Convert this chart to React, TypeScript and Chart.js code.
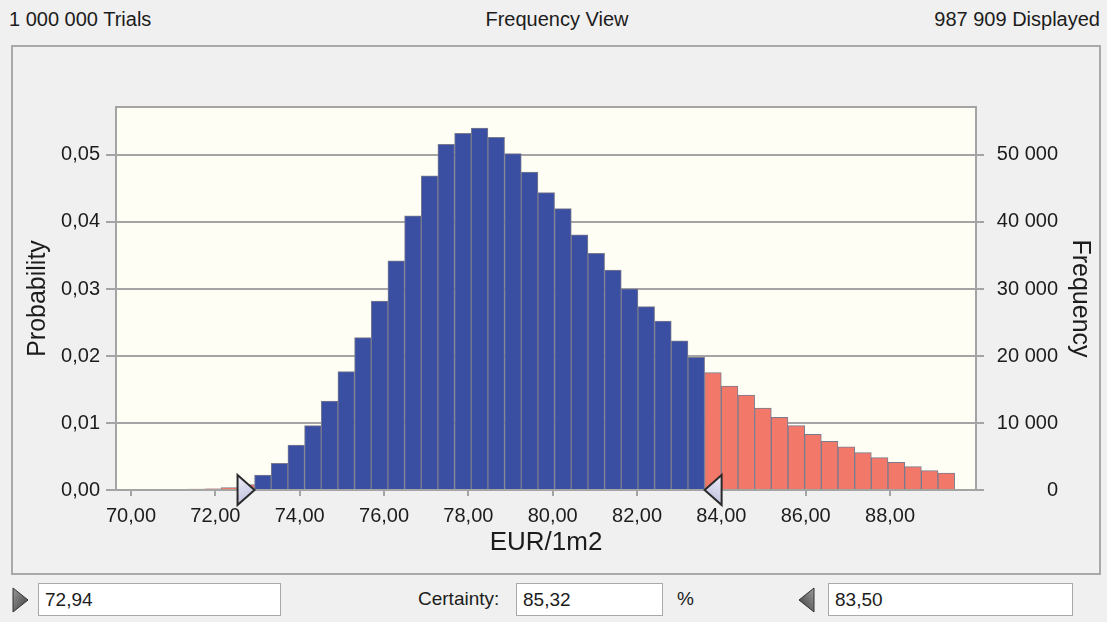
import React, { useEffect, useRef } from 'react';
import { Chart, registerables } from 'chart.js';

Chart.register(...registerables);

// ---- data ----
const binCenters = [
  70.360, 70.755, 71.151, 71.546, 71.941, 72.337, 72.732, 73.127, 73.522, 73.918,
  74.313, 74.708, 75.104, 75.499, 75.894, 76.290, 76.685, 77.080, 77.475, 77.871,
  78.266, 78.661, 79.057, 79.452, 79.847, 80.243, 80.638, 81.033, 81.428, 81.824,
  82.219, 82.614, 83.010, 83.405, 83.800, 84.196, 84.591, 84.986, 85.381, 85.777,
  86.172, 86.567, 86.963, 87.358, 87.753, 88.149, 88.544, 88.939, 89.334,
];
const probabilities = [
  0.00003, 0.00004, 0.00006, 0.00015, 0.00018, 0.00035, 0.0008, 0.00224, 0.00398, 0.00672,
  0.0096, 0.01328, 0.01766, 0.02273, 0.02821, 0.03422, 0.0409, 0.04687, 0.0516, 0.05324,
  0.05403, 0.05264, 0.0502, 0.04746, 0.04437, 0.04199, 0.0381, 0.03532, 0.03284, 0.03004,
  0.02736, 0.02522, 0.02228, 0.0198, 0.01751, 0.01552, 0.01418, 0.01224, 0.01085, 0.0096,
  0.00831, 0.00727, 0.00646, 0.00557, 0.00482, 0.00413, 0.00348, 0.00288, 0.00254,
];
const xTickValues = [70, 72, 74, 76, 78, 80, 82, 84, 86, 88];
const probTickValues = [0, 0.01, 0.02, 0.03, 0.04, 0.05];
const freqTickValues = [0, 10000, 20000, 30000, 40000, 50000];
const lowerCertainty = 72.94;
const upperCertainty = 83.5;
const certaintyPercent = 85.32;
const trialsCount = 1000000;
const displayedCount = 987909;

// ---- axis ranges / styles ----
const X_MIN = 69.644;
const X_MAX = 90.038;
const Y_MAX = 0.05716;
const BLUE = '#3a4fa2';
const RED = '#f2786a';
const GRID = '#a4a4a4';
const TXT = '#1c1c1c';
const FONT = "'Liberation Sans', Arial, sans-serif";

const fmtComma = (v: number, d: number) => v.toFixed(d).replace('.', ',');
const fmtSpace = (v: number) => String(Math.round(v)).replace(/\B(?=(\d{3})+(?!\d))/g, ' ');

const bgPlugin = {
  id: 'plotBg',
  beforeDraw(chart: any) {
    const { ctx, chartArea: a } = chart;
    ctx.save();
    ctx.fillStyle = '#fefef4';
    ctx.fillRect(a.left, a.top, a.right - a.left, a.bottom - a.top);
    ctx.restore();
  },
};

const framePlugin = {
  id: 'frameAndMarkers',
  afterDatasetsDraw(chart: any) {
    const { ctx, chartArea: a, scales } = chart;
    ctx.save();
    ctx.strokeStyle = GRID;
    ctx.lineWidth = 2;
    ctx.strokeRect(a.left, a.top, a.right - a.left, a.bottom - a.top);

    // certainty markers at the edges of the highlighted range
    const half = (binCenters[1] - binCenters[0]) / 2;
    const inside = binCenters.filter((c) => c >= lowerCertainty && c <= upperCertainty);
    const xl = scales.x.getPixelForValue(inside[0] - half);
    const xr = scales.x.getPixelForValue(inside[inside.length - 1] + half);
    const yb = a.bottom;
    const drawTri = (tipX: number, dir: number) => {
      const baseX = tipX - dir * 17;
      const g = ctx.createLinearGradient(baseX, yb - 15, tipX, yb + 15);
      g.addColorStop(0, '#eeeef8');
      g.addColorStop(1, '#b8b8dc');
      ctx.beginPath();
      ctx.moveTo(baseX, yb - 15);
      ctx.lineTo(tipX, yb);
      ctx.lineTo(baseX, yb + 15);
      ctx.closePath();
      ctx.fillStyle = g;
      ctx.fill();
      ctx.strokeStyle = '#2a2a2a';
      ctx.lineWidth = 2;
      ctx.stroke();
    };
    drawTri(xl, 1);
    drawTri(xr, -1);

    // right axis title
    ctx.translate(1068, (a.top + a.bottom) / 2);
    ctx.rotate(Math.PI / 2);
    ctx.font = `25px ${FONT}`;
    ctx.fillStyle = TXT;
    ctx.textAlign = 'center';
    ctx.textBaseline = 'middle';
    ctx.fillText('Frequency', 0, 0);
    ctx.restore();
  },
};

function ChartBox() {
  const ref = useRef<HTMLCanvasElement>(null);
  useEffect(() => {
    if (!ref.current) return;
    Chart.defaults.font.family = FONT;
    const chart = new Chart(ref.current, {
      type: 'bar',
      data: {
        datasets: [
          {
            data: binCenters.map((c, i) => ({ x: c, y: probabilities[i] })),
            backgroundColor: binCenters.map((c) => (c >= lowerCertainty && c <= upperCertainty ? BLUE : RED)),
            borderColor: '#7b7b8e',
            borderWidth: 1,
            barPercentage: 1,
            categoryPercentage: 1,
            yAxisID: 'y',
          } as any,
        ],
      },
      options: {
        responsive: false,
        animation: false,
        layout: { padding: { top: 60, right: 42, left: 0, bottom: 0 } },
        plugins: { legend: { display: false }, tooltip: { enabled: false } },
        scales: {
          x: {
            type: 'linear',
            min: X_MIN,
            max: X_MAX,
            offset: false,
            afterBuildTicks: (s: any) => {
              s.ticks = xTickValues.map((v) => ({ value: v }));
            },
            afterFit: (s: any) => {
              s.height = 84;
            },
            grid: { offset: false, drawOnChartArea: false, tickLength: 6, color: GRID, lineWidth: 2 },
            border: { display: false },
            ticks: {
              callback: (v: any) => fmtComma(Number(v), 2),
              font: { size: 20 },
              color: TXT,
              padding: 8,
              maxRotation: 0,
              autoSkip: false,
            },
            title: { display: true, text: 'EUR/1m2', font: { size: 26 }, color: TXT, padding: { top: 0, bottom: 16 } },
          },
          y: {
            position: 'left',
            min: 0,
            max: Y_MAX,
            afterBuildTicks: (s: any) => {
              s.ticks = probTickValues.map((v) => ({ value: v }));
            },
            afterFit: (s: any) => {
              s.width = 104;
            },
            grid: { color: GRID, lineWidth: 2, tickLength: 10 },
            border: { display: false },
            ticks: { callback: (v: any) => fmtComma(Number(v), 2), font: { size: 20 }, color: TXT, padding: 6 },
            title: { display: true, text: 'Probability', font: { size: 25 }, color: TXT, padding: { top: 11, bottom: 0 } },
          },
          y2: {
            position: 'right',
            min: 0,
            max: Y_MAX * trialsCount,
            afterBuildTicks: (s: any) => {
              s.ticks = freqTickValues.map((v) => ({ value: v }));
            },
            afterFit: (s: any) => {
              s.width = 82;
            },
            grid: { drawOnChartArea: false, color: GRID, lineWidth: 2, tickLength: 8 },
            border: { display: false },
            ticks: {
              callback: (v: any) => fmtSpace(Number(v)),
              font: { size: 20 },
              color: TXT,
              padding: 13,
              crossAlign: 'far',
            },
          },
        },
      } as any,
      plugins: [bgPlugin, framePlugin],
    });
    return () => chart.destroy();
  }, []);
  return (
    <canvas
      ref={ref}
      width={1088}
      height={527}
      style={{ position: 'absolute', left: 12, top: 47, width: 1088, height: 527 }}
    />
  );
}

const txt: React.CSSProperties = {
  position: 'absolute',
  fontFamily: FONT,
  color: TXT,
  whiteSpace: 'nowrap',
};

const box: React.CSSProperties = {
  position: 'absolute',
  top: 583,
  height: 33,
  background: '#ffffff',
  border: '1px solid #a9a9a9',
  boxSizing: 'border-box',
  fontFamily: FONT,
  fontSize: 19,
  lineHeight: '31px',
  paddingLeft: 6,
  color: TXT,
};

export default function App() {
  return (
    <div
      style={{
        position: 'fixed',
        left: 0,
        top: 0,
        width: 1107,
        height: 622,
        background: '#f0f0f0',
        overflow: 'hidden',
      }}
    >
      <div style={{ ...txt, left: 9, top: 8, fontSize: 20 }}>{fmtSpace(trialsCount)} Trials</div>
      <div style={{ ...txt, left: 0, width: 1114, top: 8, fontSize: 20, textAlign: 'center' }}>Frequency View</div>
      <div style={{ ...txt, right: 7, top: 8, fontSize: 20 }}>{fmtSpace(displayedCount)} Displayed</div>

      <div
        style={{
          position: 'absolute',
          left: 11,
          top: 45,
          width: 1090,
          height: 530,
          border: '2px solid #a9a9a9',
          boxSizing: 'border-box',
          background: '#f0f0f0',
        }}
      />
      <ChartBox />

      <svg style={{ position: 'absolute', left: 12, top: 587 }} width={18} height={26}>
        <defs>
          <linearGradient id="gl" x1="0" y1="0" x2="1" y2="1">
            <stop offset="0" stopColor="#9a9a9a" />
            <stop offset="1" stopColor="#3c3c3c" />
          </linearGradient>
        </defs>
        <polygon points="1,1 16,13 1,25" fill="url(#gl)" stroke="#333" strokeWidth={1} />
      </svg>
      <div style={{ ...box, left: 38, width: 243 }}>{fmtComma(lowerCertainty, 2)}</div>

      <div style={{ ...txt, left: 418, top: 588, fontSize: 19 }}>Certainty:</div>
      <div style={{ ...box, left: 516, width: 147 }}>{fmtComma(certaintyPercent, 2)}</div>
      <div style={{ ...txt, left: 677, top: 588, fontSize: 19 }}>%</div>

      <svg style={{ position: 'absolute', left: 797, top: 587 }} width={18} height={26}>
        <defs>
          <linearGradient id="gr" x1="1" y1="0" x2="0" y2="1">
            <stop offset="0" stopColor="#9a9a9a" />
            <stop offset="1" stopColor="#3c3c3c" />
          </linearGradient>
        </defs>
        <polygon points="17,1 2,13 17,25" fill="url(#gr)" stroke="#333" strokeWidth={1} />
      </svg>
      <div style={{ ...box, left: 828, width: 245 }}>{fmtComma(upperCertainty, 2)}</div>
    </div>
  );
}
